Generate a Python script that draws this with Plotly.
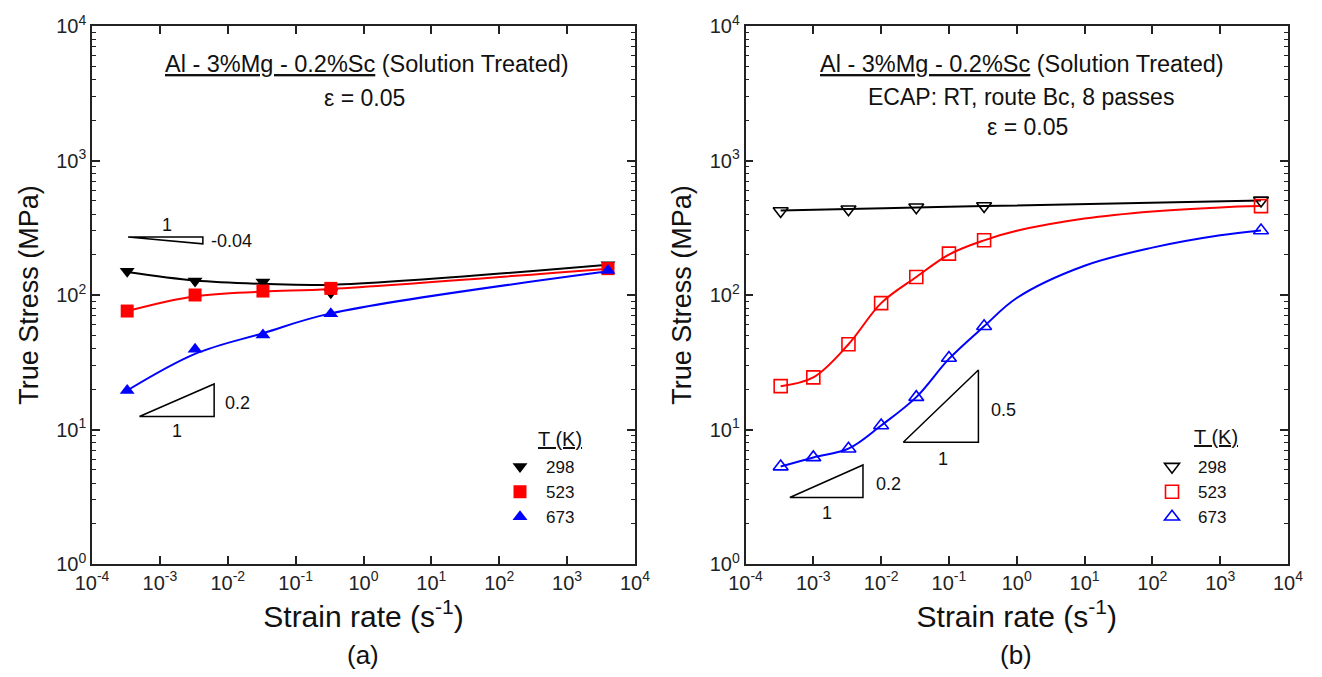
import plotly.graph_objects as go

# ---------------- data ----------------
temps = ["298", "523", "673"]
colors = ["#000000", "#ff0000", "#0000ff"]

# Panel (a): solution treated
a_rate = [3.3e-4, 3.3e-3, 3.3e-2, 3.3e-1, 4.0e3]
a_298 = [150, 127, 125, 104, 168]
a_523 = [76, 100, 107, 112, 157]
a_673 = [19.5, 39.5, 50.5, 72.5, 152]

# fitted curves, panel (a)
a_fit_x = [3.3e-4, 3.3e-3, 3.3e-2, 3.3e-1, 4.0e3]
a_fit_298 = [148, 128, 121, 119, 168]
a_fit_523 = [76, 98, 106, 111, 157]
a_fit_673 = [19.5, 36.5, 52, 73, 150]

# Panel (b): ECAP
b_rate_298 = [3.3e-4, 3.3e-3, 3.3e-2, 3.3e-1, 4.0e3]
b_298 = [421, 434, 449, 459, 505]
b_rate = [3.3e-4, 1e-3, 3.3e-3, 1e-2, 3.3e-2, 1e-1, 3.3e-1, 4.0e3]
b_523 = [21.0, 24.4, 43.0, 87.0, 136, 203, 255, 458]
b_673 = [5.3, 6.2, 7.2, 10.7, 17.4, 34.0, 58.5, 302]

# fitted curves, panel (b)
b_fit_x_298 = [3.3e-4, 3.3e-3, 3.3e-2, 3.3e-1, 4.0e3]
b_fit_298 = [425, 436, 448, 458, 505]
b_fit_x = [3.3e-4, 1e-3, 3.3e-3, 1e-2, 3.3e-2, 1e-1, 3.3e-1, 1e0, 1e1, 1e2, 1e3, 4.0e3]
b_fit_523 = [21.0, 24.4, 43.0, 87.0, 136, 200, 255, 300, 370, 418, 448, 458]
b_fit_673 = [5.3, 6.2, 7.2, 10.7, 17.4, 33.5, 58.5, 95, 165, 225, 278, 302]

# slope triangles (x, y vertices)
a_tri1_x = [3.4e-4, 4.3e-3, 4.3e-3, 3.4e-4]
a_tri1_y = [270, 270, 240, 270]
a_tri2_x = [5.0e-4, 6.3e-3, 6.3e-3, 5.0e-4]
a_tri2_y = [12.5, 12.5, 21.8, 12.5]
b_tri1_x = [0.0212, 0.272, 0.272, 0.0212]
b_tri1_y = [8.05, 8.05, 27.7, 8.05]
b_tri2_x = [4.5e-4, 5.4e-3, 5.4e-3, 4.5e-4]
b_tri2_y = [3.12, 3.12, 5.45, 3.12]

x_tickvals = [1e-4, 1e-3, 1e-2, 1e-1, 1e0, 1e1, 1e2, 1e3, 1e4]
x_ticktext = ["10<sup>-4</sup>", "10<sup>-3</sup>", "10<sup>-2</sup>", "10<sup>-1</sup>",
              "10<sup>0</sup>", "10<sup>1</sup>", "10<sup>2</sup>", "10<sup>3</sup>", "10<sup>4</sup>"]
y_tickvals = [1e0, 1e1, 1e2, 1e3, 1e4]
y_ticktext = ["10<sup>0</sup>", "10<sup>1</sup>", "10<sup>2</sup>", "10<sup>3</sup>", "10<sup>4</sup>"]
y_minorvals = [m * d for d in [1, 10, 100, 1000] for m in range(2, 10)]

FONT = "Arial, Liberation Sans, sans-serif"

fig = go.Figure()

# ---------------- panel (a) ----------------
for fy, c in zip([a_fit_298, a_fit_523, a_fit_673], colors):
    fig.add_trace(go.Scatter(x=a_fit_x, y=fy, mode="lines", line=dict(color=c, width=2, shape="spline", smoothing=1.0),
                             showlegend=False, hoverinfo="skip", xaxis="x", yaxis="y"))
for ys, c, sym, t in zip([a_298, a_523, a_673], colors,
                         ["triangle-down", "square", "triangle-up"], temps):
    fig.add_trace(go.Scatter(x=a_rate, y=ys, mode="markers", name=t,
                             marker=dict(symbol=sym, color=c, size=13, line=dict(width=0)),
                             xaxis="x", yaxis="y", legend="legend"))
for tx, ty in [(a_tri1_x, a_tri1_y), (a_tri2_x, a_tri2_y)]:
    fig.add_trace(go.Scatter(x=tx, y=ty, mode="lines", line=dict(color="black", width=1.5),
                             showlegend=False, hoverinfo="skip", xaxis="x", yaxis="y"))

# ---------------- panel (b) ----------------
for fx, fy, c in zip([b_fit_x_298, b_fit_x, b_fit_x], [b_fit_298, b_fit_523, b_fit_673], colors):
    fig.add_trace(go.Scatter(x=fx, y=fy, mode="lines", line=dict(color=c, width=2, shape="spline", smoothing=1.0),
                             showlegend=False, hoverinfo="skip", xaxis="x2", yaxis="y2"))
for xs, ys, c, sym, t in zip([b_rate_298, b_rate, b_rate], [b_298, b_523, b_673], colors,
                             ["triangle-down-open", "square-open", "triangle-up-open"], temps):
    fig.add_trace(go.Scatter(x=xs, y=ys, mode="markers", name=t,
                             marker=dict(symbol=sym, color=c, size=13, line=dict(width=1.6, color=c)),
                             xaxis="x2", yaxis="y2", legend="legend2"))
for tx, ty in [(b_tri1_x, b_tri1_y), (b_tri2_x, b_tri2_y)]:
    fig.add_trace(go.Scatter(x=tx, y=ty, mode="lines", line=dict(color="black", width=1.5),
                             showlegend=False, hoverinfo="skip", xaxis="x2", yaxis="y2"))

LC = "#222"
axis_common = dict(type="log", showline=True, linecolor=LC, linewidth=1.5,
                   ticks="inside", ticklen=8, tickwidth=1.5, tickcolor=LC, showgrid=False,
                   zeroline=False, tickfont=dict(family=FONT, size=20, color="#222"))
minor = dict(ticks="inside", ticklen=4, tickwidth=1.2, tickcolor=LC, showgrid=False,
             tickmode="array", tickvals=y_minorvals)
xa = dict(axis_common, range=[-4, 4], tickmode="array", tickvals=x_tickvals, ticktext=x_ticktext,
          mirror="ticks",
          title=dict(text="Strain rate (s<sup>-1</sup>)", font=dict(family=FONT, size=30, color="#111"), standoff=13))
ya = dict(axis_common, range=[0, 4], tickmode="array", tickvals=y_tickvals, ticktext=y_ticktext,
          mirror="ticks", minor=minor,
          title=dict(text="True Stress (MPa)", font=dict(family=FONT, size=27, color="#111"), standoff=10))

W, H = 1322, 677
ML, MR, MT, MB = 92, 34, 21, 113
PW, PH = W - ML - MR, H - MT - MB

def px(xp):
    return (xp - ML) / PW

def py(yp):
    return (H - MB - yp) / PH

ann = []
def add_text(text, x, y, size=20, xref="paper", yref="paper", xanchor="center"):
    ann.append(dict(text=text, x=x, y=y, xref=xref, yref=yref, showarrow=False, xanchor=xanchor,
                    yanchor="middle", font=dict(family=FONT, size=size, color="#111")))

# panel titles
add_text("<u>Al - 3%Mg - 0.2%Sc</u> (Solution Treated)", px(367), py(59), 23.5)
add_text("ε = 0.05", px(364), py(94), 23)
add_text("<u>Al - 3%Mg - 0.2%Sc</u> (Solution Treated)", px(1022), py(59), 23.5)
add_text("ECAP: RT, route Bc, 8 passes", px(1021), py(93), 23)
add_text("ε = 0.05", px(1027), py(123), 23)
add_text("(a)", px(363), py(656), 26)
add_text("(b)", px(1016), py(656), 26)
# legend titles
add_text("<u>T (K)</u>", px(560), py(438), 20)
add_text("<u>T (K)</u>", px(1216), py(436), 20)
# slope labels (log coordinates)
add_text("1", -2.898, 2.522, 18, "x", "y")
add_text("-0.04", -1.95, 2.399, 18, "x", "y")
add_text("0.2", -1.862, 1.196, 18, "x", "y")
add_text("1", -2.751, 0.987, 18, "x", "y")
add_text("0.5", -0.198, 1.147, 18, "x2", "y2")
add_text("1", -1.083, 0.779, 18, "x2", "y2")
add_text("0.2", -1.898, 0.597, 18, "x2", "y2")
add_text("1", -2.798, 0.376, 18, "x2", "y2")

legend_common = dict(bgcolor="rgba(0,0,0,0)", borderwidth=0, font=dict(family=FONT, size=17, color="#111"),
                     xanchor="left", yanchor="top", tracegroupgap=0, itemwidth=42)

fig.update_layout(
    width=W, height=H, margin=dict(l=ML, r=MR, t=MT, b=MB),
    paper_bgcolor="white", plot_bgcolor="white",
    xaxis=dict(xa, domain=[0, (635 - ML) / PW], anchor="y"),
    yaxis=dict(ya, domain=[0, 1], anchor="x"),
    xaxis2=dict(xa, domain=[(745.5 - ML) / PW, 1], anchor="y2"),
    yaxis2=dict(ya, domain=[0, 1], anchor="x2"),
    legend=dict(legend_common, x=px(494), y=py(448)),
    legend2=dict(legend_common, x=px(1146), y=py(448)),
    annotations=ann,
    showlegend=True,
)

fig.write_html("out.html")
